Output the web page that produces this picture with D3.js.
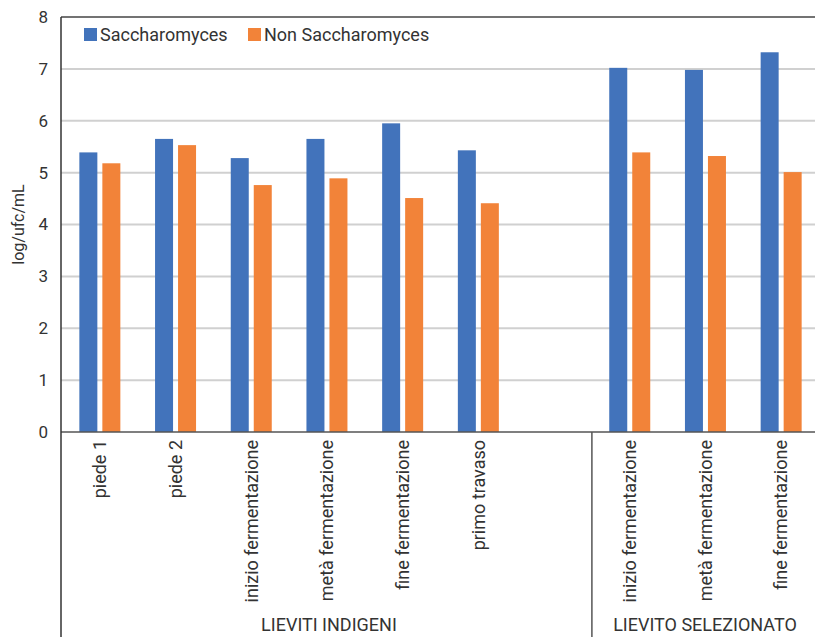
<!DOCTYPE html>
<html>
<head>
<meta charset="utf-8">
<script src="https://cdn.jsdelivr.net/npm/d3@7"></script>
<style>
  body { margin: 0; background: #fff; }
  svg { display: block; }
  text { font-family: "Roboto", "DejaVu Sans Condensed", sans-serif; fill: #333; }
</style>
</head>
<body>
<svg id="chart" width="815" height="637"></svg>
<script>
// Categories (one empty slot separates the two groups)
const categories = ["piede 1", "piede 2", "inizio fermentazione", "metà fermentazione",
  "fine fermentazione", "primo travaso", "", "inizio fermentazione ", "metà fermentazione ", "fine fermentazione "];
const saccharomyces = [5.39, 5.65, 5.28, 5.65, 5.95, 5.43, null, 7.02, 6.98, 7.32];
const nonSaccharomyces = [5.18, 5.53, 4.76, 4.89, 4.51, 4.41, null, 5.39, 5.32, 5.01];
const seriesNames = ["Saccharomyces", "Non Saccharomyces"];
const seriesColors = ["#4273bb", "#f28339"];
const groups = [
  { label: "LIEVITI INDIGENI", from: 0, to: 6 },
  { label: "LIEVITO SELEZIONATO", from: 7, to: 9 }
];
const yTicks = [0, 1, 2, 3, 4, 5, 6, 7, 8];

const svg = d3.select("#chart");
const m = { left: 61, top: 17, right: -3, bottom: 205 };
const W = 815, H = 637;
const plotBottom = H - m.bottom;

const x = d3.scaleBand().domain(d3.range(categories.length))
  .range([m.left, W - m.right]).paddingInner(0).paddingOuter(0);
const y = d3.scaleLinear().domain([0, 8]).range([plotBottom, m.top]);

// Gridlines
svg.append("g").selectAll("line").data(yTicks.filter(t => t > 0 && t < 8)).join("line")
  .attr("x1", m.left).attr("x2", W).attr("y1", d => y(d)).attr("y2", d => y(d))
  .attr("stroke", "#d0d0d0").attr("stroke-width", 2);
// Top border
svg.append("line").attr("x1", m.left).attr("x2", W).attr("y1", y(8)).attr("y2", y(8))
  .attr("stroke", "#444").attr("stroke-width", 1.5);

// Y axis tick labels
svg.append("g").selectAll("text").data(yTicks).join("text")
  .attr("x", 48).attr("y", d => y(d)).attr("dy", "0.35em")
  .attr("text-anchor", "end").style("font-size", "17px").text(d => d);

// Y axis title
svg.append("text")
  .attr("transform", `translate(18, ${(y(0) + y(8)) / 2}) rotate(-90)`)
  .attr("text-anchor", "middle").attr("dy", "0.35em").style("font-size", "16px").text("log/ufc/mL");

// Bars
const bw = 18, gap = 5;
const bars = svg.append("g");
[saccharomyces, nonSaccharomyces].forEach((vals, si) => {
  bars.selectAll(null).data(vals.map((v, i) => ({ v, i })).filter(d => d.v != null)).join("rect")
    .attr("x", d => x(d.i) + x.bandwidth() / 2 + (si === 0 ? -bw - gap / 2 + 1 : gap / 2 + 1))
    .attr("y", d => y(d.v))
    .attr("width", bw)
    .attr("height", d => y(0) - y(d.v))
    .attr("fill", seriesColors[si]);
});

// Axis lines
svg.append("line").attr("x1", m.left).attr("x2", W).attr("y1", y(0)).attr("y2", y(0))
  .attr("stroke", "#555").attr("stroke-width", 1.5);
svg.append("line").attr("x1", m.left).attr("x2", m.left).attr("y1", y(8)).attr("y2", H)
  .attr("stroke", "#333").attr("stroke-width", 1.5);
// Group separator
svg.append("line").attr("x1", x(7) + 1).attr("x2", x(7) + 1).attr("y1", y(0)).attr("y2", H)
  .attr("stroke", "#555").attr("stroke-width", 1.5);

// Category labels (rotated)
svg.append("g").selectAll("text").data(categories.map((c, i) => ({ c, i })).filter(d => d.c !== "")).join("text")
  .attr("transform", d => `translate(${x(d.i) + x.bandwidth() / 2 + 1}, ${y(0) + 8}) rotate(-90)`)
  .attr("text-anchor", "end").attr("dy", "0.35em")
  .style("font-size", "18px").text(d => d.c.trim());

// Group labels
const groupCenter = [(m.left + x(7)) / 2 + 3, 705];
svg.append("g").selectAll("text").data(groups).join("text")
  .attr("x", (d, i) => groupCenter[i])
  .attr("y", 631).attr("text-anchor", "middle").style("font-size", "18px")
  .text(d => d.label);

// Legend
const legend = svg.append("g").attr("transform", "translate(84, 28)");
const lx = [0, 164];
seriesNames.forEach((name, i) => {
  legend.append("rect").attr("x", lx[i]).attr("y", 0).attr("width", 13).attr("height", 13)
    .attr("fill", seriesColors[i]);
  legend.append("text").attr("x", lx[i] + 16).attr("y", 13).style("font-size", "18px").text(name);
});
</script>
</body>
</html>
